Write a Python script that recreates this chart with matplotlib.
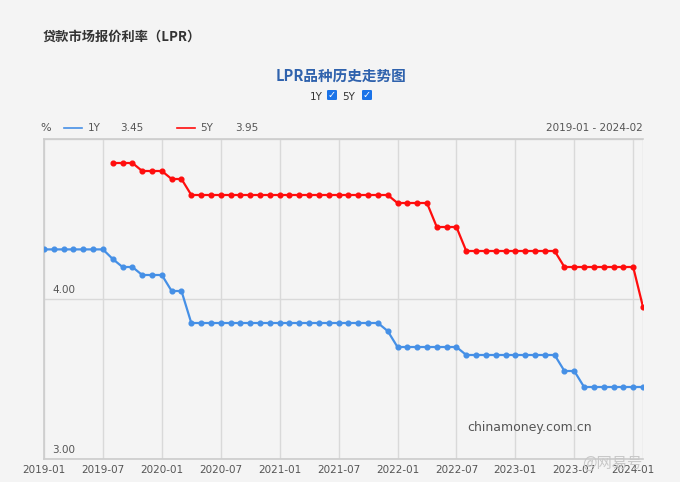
import numpy as np
import matplotlib.pyplot as plt
from matplotlib.patches import FancyBboxPatch

plt.rcParams['font.family'] = ['Noto Sans CJK SC', 'DejaVu Sans']

# monthly fixings, 2019-01 .. 2024-02
months = ['2019-01', '2019-02', '2019-03', '2019-04', '2019-05', '2019-06', '2019-07', '2019-08',
          '2019-09', '2019-10', '2019-11', '2019-12', '2020-01', '2020-02', '2020-03', '2020-04',
          '2020-05', '2020-06', '2020-07', '2020-08', '2020-09', '2020-10', '2020-11', '2020-12',
          '2021-01', '2021-02', '2021-03', '2021-04', '2021-05', '2021-06', '2021-07', '2021-08',
          '2021-09', '2021-10', '2021-11', '2021-12', '2022-01', '2022-02', '2022-03', '2022-04',
          '2022-05', '2022-06', '2022-07', '2022-08', '2022-09', '2022-10', '2022-11', '2022-12',
          '2023-01', '2023-02', '2023-03', '2023-04', '2023-05', '2023-06', '2023-07', '2023-08',
          '2023-09', '2023-10', '2023-11', '2023-12', '2024-01', '2024-02']

lpr_1y = [4.31, 4.31, 4.31, 4.31, 4.31, 4.31, 4.31, 4.25, 4.20, 4.20, 4.15, 4.15,
          4.15, 4.05, 4.05, 3.85, 3.85, 3.85, 3.85, 3.85, 3.85, 3.85, 3.85, 3.85,
          3.85, 3.85, 3.85, 3.85, 3.85, 3.85, 3.85, 3.85, 3.85, 3.85, 3.85, 3.80,
          3.70, 3.70, 3.70, 3.70, 3.70, 3.70, 3.70, 3.65, 3.65, 3.65, 3.65, 3.65,
          3.65, 3.65, 3.65, 3.65, 3.65, 3.55, 3.55, 3.45, 3.45, 3.45, 3.45, 3.45,
          3.45, 3.45]

lpr_5y = [np.nan, np.nan, np.nan, np.nan, np.nan, np.nan, np.nan, 4.85, 4.85, 4.85, 4.80, 4.80,
          4.80, 4.75, 4.75, 4.65, 4.65, 4.65, 4.65, 4.65, 4.65, 4.65, 4.65, 4.65,
          4.65, 4.65, 4.65, 4.65, 4.65, 4.65, 4.65, 4.65, 4.65, 4.65, 4.65, 4.65,
          4.60, 4.60, 4.60, 4.60, 4.45, 4.45, 4.45, 4.30, 4.30, 4.30, 4.30, 4.30,
          4.30, 4.30, 4.30, 4.30, 4.30, 4.20, 4.20, 4.20, 4.20, 4.20, 4.20, 4.20,
          4.20, 3.95]

bg = '#f4f4f4'
blue = '#4690e6'
red = '#ff0d0d'
grid = '#d9d9d9'
txt = '#555555'

fig = plt.figure(figsize=(6.8, 4.82), dpi=100, facecolor=bg)
ax = fig.add_axes([44 / 680, 1 - 459 / 482, (643 - 44) / 680, (459 - 139) / 482])
ax.set_facecolor(bg)

x = np.arange(len(months))
ax.plot(x, lpr_1y, color=blue, lw=1.6, marker='o', ms=3.4, zorder=3)
ax.plot(x, lpr_5y, color=red, lw=1.6, marker='o', ms=3.4, zorder=3)

ax.set_xlim(0, len(months) - 1)
ax.set_ylim(3, 5)

tick_idx = list(range(0, len(months), 6))
ax.set_xticks(tick_idx + [len(months) - 1])
ax.set_xticklabels([months[i] for i in tick_idx] + [''], fontsize=7.5, color=txt,
                   family=['DejaVu Sans'])
ax.set_yticks([3, 4, 5])
ax.set_yticklabels([])
ax.tick_params(length=0, pad=4)
ax.grid(True, color=grid, lw=1)
ax.set_axisbelow(True)
for s in ax.spines.values():
    s.set_color('#cccccc')
    s.set_linewidth(1.2)
ax.spines['right'].set_visible(False)

for v in [3, 4]:
    ax.annotate(f'{v:.2f}', xy=(0, v), xycoords=('axes fraction', 'data'),
                xytext=(6, 3), textcoords='offset points', fontsize=7.5, color=txt,
                family=['DejaVu Sans'], va='bottom', ha='left')

ax.text(0.81, 0.1, 'chinamoney.com.cn', transform=ax.transAxes, fontsize=9,
        color='#555555', ha='center', va='center', family=['DejaVu Sans'])
fig.text(612 / 680, 1 - 463 / 482, '@网易号', fontsize=11, color='#c8c8c8',
         ha='center', va='center')

# headings
fig.text(43 / 680, 1 - 37 / 482, '贷款市场报价利率（LPR）', fontsize=9.5, fontweight='bold',
         color='#333333', va='center', ha='left')
fig.text(341 / 680, 1 - 76 / 482, 'LPR品种历史走势图', fontsize=10.5, fontweight='bold',
         color='#2f62ad', va='center', ha='center')

# checkbox row
for label, lx, bx in [('1Y', 316, 327), ('5Y', 349, 362)]:
    fig.text(lx / 680, 1 - 97 / 482, label, fontsize=7.5, color='#333333',
             va='center', ha='center', family=['DejaVu Sans'])
    fig.patches.append(FancyBboxPatch((bx / 680, 1 - 100 / 482), 10 / 680, 10 / 482,
                                      boxstyle='round,pad=0,rounding_size=0.002',
                                      transform=fig.transFigure, facecolor='#1a73e8',
                                      edgecolor='none'))
    fig.text((bx + 5) / 680, 1 - 95 / 482, '✓', fontsize=7, color='white', fontweight='bold',
             va='center', ha='center', family=['DejaVu Sans'])

# legend row
ly = 1 - 128 / 482
fig.text(40 / 680, ly, '%', fontsize=8, color=txt, va='center', ha='left',
         family=['DejaVu Sans'])
fig.add_artist(plt.Line2D([64 / 680, 82 / 680], [ly, ly], color=blue, lw=1.2,
                          transform=fig.transFigure))
fig.text(88 / 680, ly, '1Y', fontsize=7.5, color=txt, va='center', ha='left',
         family=['DejaVu Sans'])
fig.text(120 / 680, ly, f'{lpr_1y[-1]:.2f}', fontsize=7.5, color=txt, va='center', ha='left',
         family=['DejaVu Sans'])
fig.add_artist(plt.Line2D([177 / 680, 195 / 680], [ly, ly], color=red, lw=1.2,
                          transform=fig.transFigure))
fig.text(200 / 680, ly, '5Y', fontsize=7.5, color=txt, va='center', ha='left',
         family=['DejaVu Sans'])
fig.text(235 / 680, ly, f'{lpr_5y[-1]:.2f}', fontsize=7.5, color=txt, va='center', ha='left',
         family=['DejaVu Sans'])
fig.text(643 / 680, ly, f'{months[0]} - {months[-1]}', fontsize=7.5, color=txt,
         va='center', ha='right', family=['DejaVu Sans'])

fig.savefig('out.png', dpi=100, facecolor=bg)
